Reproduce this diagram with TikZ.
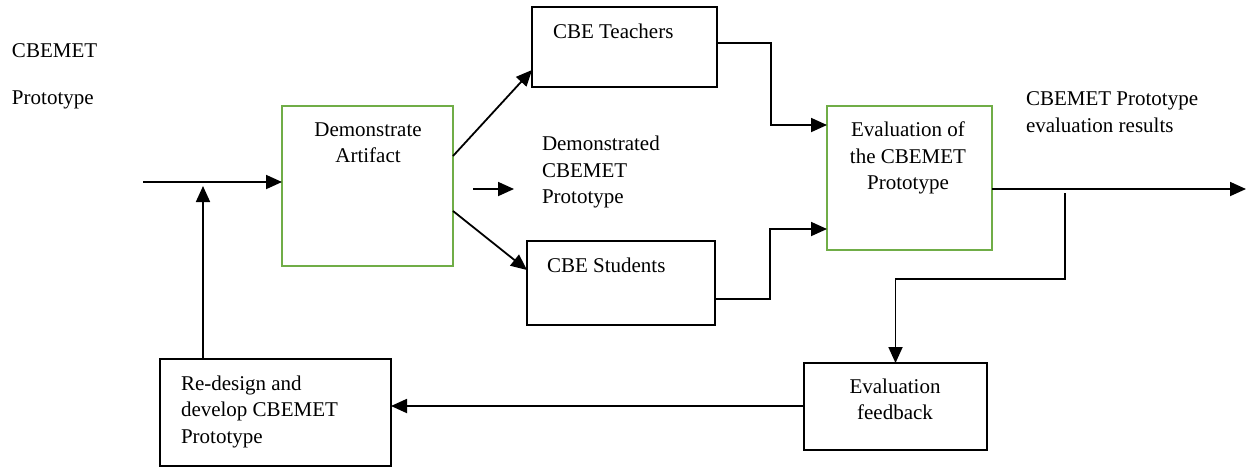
\documentclass[tikz,border=0pt]{standalone}
\usepackage{fontspec}
\setmainfont{LiberationSerif-Regular.ttf}
\usetikzlibrary{arrows.meta}
\definecolor{boxgreen}{RGB}{112,173,71}
\begin{document}
\begin{tikzpicture}[x=1pt,y=-1pt,
  every node/.style={inner sep=0pt,outer sep=0pt},
  txt/.style={font=\fontsize{21}{26.5}\selectfont},
  gbox/.style={draw=boxgreen,line width=2.2pt},
  kbox/.style={draw=black,line width=2pt},
  arr/.style={line width=1.8pt,-{Triangle[length=16pt,width=14pt]}}]
\useasboundingbox (0,0) rectangle (1250,467);
% boxes
\node[gbox,minimum width=171pt,minimum height=160pt] (demo) at (367.5,186) {};
\node[kbox,minimum width=185pt,minimum height=80pt] (teach) at (624.5,47) {};
\node[kbox,minimum width=188pt,minimum height=84pt] (stud) at (621,283) {};
\node[gbox,minimum width=165pt,minimum height=144pt] (eval) at (909.5,178) {};
\node[kbox,minimum width=183pt,minimum height=87pt] (fb) at (895.5,406.5) {};
\node[kbox,minimum width=231pt,minimum height=107pt] (redesign) at (275.5,412) {};
% texts
\node[txt,anchor=base west] (t1) at (12,57) {CBEMET};
\node[txt,anchor=base west] (t2) at (12,104) {Prototype};
\node[txt,anchor=north,align=center] (tdemo) at (368,122.5) {Demonstrate\\Artifact};
\node[txt,anchor=base west] (tteach) at (553,38) {CBE Teachers};
\node[txt,anchor=north west,align=left] (tdp) at (542,136) {Demonstrated\\CBEMET\\Prototype};
\node[txt,anchor=base west] (tstud) at (547,272.7) {CBE Students};
\node[txt,anchor=north,align=center] (teval) at (908,122) {Evaluation of\\the CBEMET\\Prototype};
\node[txt,anchor=north west,align=left] (tres) at (1026,92) {CBEMET Prototype\\evaluation results};
\node[txt,anchor=north,align=center] (tfb) at (895,378.5) {Evaluation\\feedback};
\node[txt,anchor=north west,align=left] (tred) at (181,375.5) {Re-design and\\develop CBEMET\\Prototype};
% connectors
\coordinate (in) at (143,182);
\draw[arr] (in) -- (in -| demo.west);
\coordinate (up) at (203,186);
\draw[arr] (up |- redesign.north) -- (up);
\draw[arr] (demo.east |- 0,156) -- (teach.west |- 0,70);
\draw[arr] (demo.east |- 0,211) -- (stud.west |- 0,270);
\coordinate (s1) at (473,189);
\coordinate (s2) at (514,189);
\draw[arr] (s1) -- (s2);
\draw[arr] (teach.east |- 0,43) -| (771,125) -- (eval.west |- 0,125);
\draw[arr] (stud.east |- 0,299) -| (770,229) -- (eval.west |- 0,229);
\coordinate (out) at (1246,189);
\draw[arr] (eval.east |- out) -- (out);
\coordinate (split) at (1065,193);
\draw[arr] (split) |- (fb.north |- 0,279) -- (fb.north);
\draw[arr] (fb.west |- 0,406) -- (redesign.east |- 0,406);
\end{tikzpicture}
\end{document}
